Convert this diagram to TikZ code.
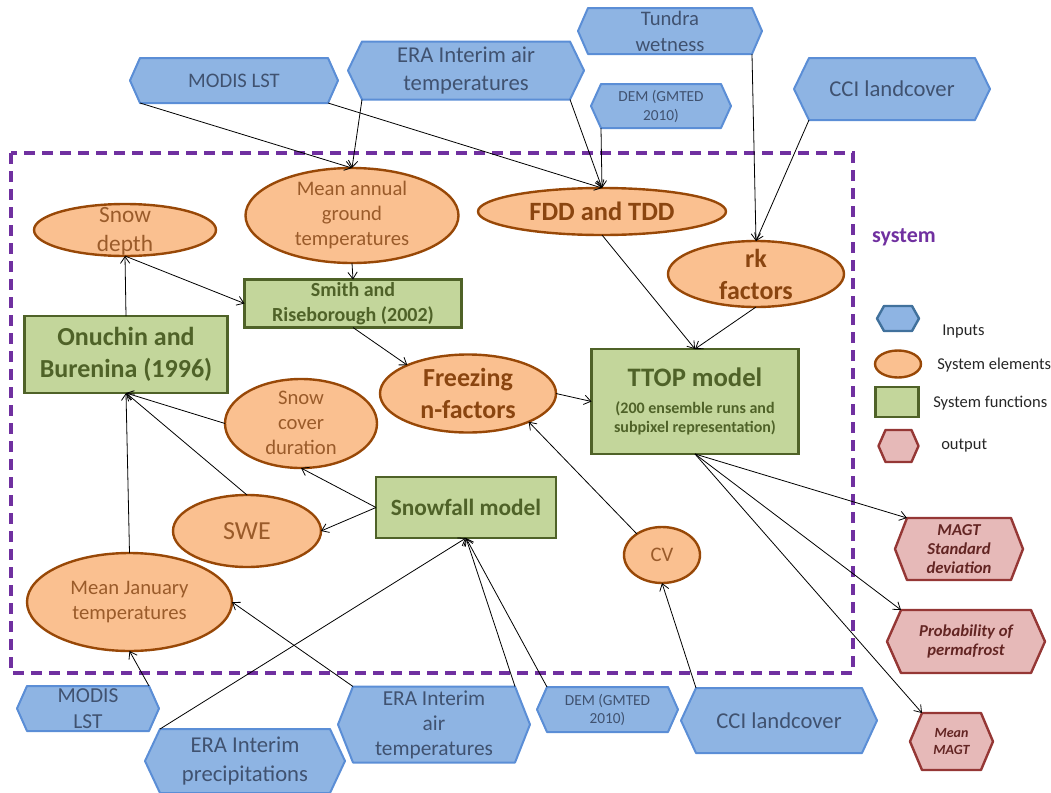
\documentclass[tikz,border=0pt]{standalone}
\usepackage{fontspec}
\setmainfont{Carlito}
\usetikzlibrary{shapes.geometric,arrows.meta}
\definecolor{bfill}{HTML}{8EB4E3}
\definecolor{bbord}{HTML}{5B8ED6}
\definecolor{btxt}{HTML}{405270}
\definecolor{lbord}{HTML}{41719C}
\definecolor{ofill}{HTML}{FAC090}
\definecolor{obord}{HTML}{984807}
\definecolor{otxt}{HTML}{9A5B2A}
\definecolor{obtxt}{HTML}{8A4510}
\definecolor{gfill}{HTML}{C3D69B}
\definecolor{gbord}{HTML}{4F6228}
\definecolor{pfill}{HTML}{E6B9B8}
\definecolor{pbord}{HTML}{953735}
\definecolor{ptxt}{HTML}{632523}
\definecolor{sysc}{HTML}{7030A0}
\newcommand\px[1]{#1*0.75pt}
\newcommand\fnt[2]{\fontsize{#1}{#2}\selectfont}
\newcommand\hexnode[9]{%
  \path[#1] (#3-#5,#4) -- (#3-#5+#7,#4-#6) -- (#3+#5-#7,#4-#6) -- (#3+#5,#4) -- (#3+#5-#7,#4+#6) -- (#3-#5+#7,#4+#6) -- cycle;
  \node[#8, minimum width={2*#5*0.75pt}, minimum height={2*#6*0.75pt}, inner sep=0pt, outer sep=0pt] (#2) at (#3,#4) {#9};}
\tikzset{
  inhex/.style={fill=bfill, draw=bbord, line width=1.5pt, line join=round},
  intext/.style={text=btxt, align=center},
  outhex/.style={fill=pfill, draw=pbord, line width=1.8pt, line join=round},
  outtext/.style={text=ptxt, align=center, font=\bfseries\itshape\fnt{12.5}{14.5}},
  elem/.style={ellipse, draw=obord, fill=ofill, line width=1.8pt, inner sep=0pt, outer sep=0pt},
  etext/.style={text=otxt, align=center, inner sep=0pt},
  ebtext/.style={text=obtxt, align=center, inner sep=0pt},
  func/.style={rectangle, draw=gbord, fill=gfill, line width=1.8pt, inner sep=0pt, outer sep=0pt, align=center, text=gbord},
  conn/.style={-{Straight Barb[length=5pt,width=7pt]}, line width=0.6pt, black},
  legtext/.style={anchor=west, inner sep=0pt, text=black!85, font=\fnt{12.4}{14}},
}
\begin{document}
\begin{tikzpicture}[x=0.75pt, y=-0.75pt]
\useasboundingbox (0,0) rectangle (1051,793);
% system boundary
\draw[sysc, line width=2.4pt, dash pattern=on 8.5pt off 5pt] (11,153) rectangle (853,673);
\node[text=sysc, font=\bfseries\fnt{16.5}{20}] (sys) at (904,237) {system};

% top inputs
\hexnode{inhex}{mt}{234}{80.5}{104}{22.5}{10}{intext, font=\fnt{15.5}{19}}{MODIS LST}
\hexnode{inhex}{et}{466}{70.5}{118}{29}{14}{intext, font=\fnt{17}{21}}{ERA Interim air\\temperatures}
\hexnode{inhex}{tw}{670}{31}{92}{23}{10}{intext, font=\fnt{15.5}{19.5}}{Tundra\\wetness}
\hexnode{inhex}{dt}{661}{106}{70}{22}{10}{intext, font=\fnt{11.5}{14.3}}{DEM (GMTED\\2010)}
\hexnode{inhex}{ct}{892}{89}{98}{31}{15}{intext, font=\fnt{17}{21}}{CCI landcover}

% bottom inputs
\hexnode{inhex}{mb}{88}{708.5}{71}{22.5}{10}{intext, font=\fnt{16}{20}}{MODIS\\LST}
\hexnode{inhex}{ep}{245}{761}{100}{32}{15}{intext, font=\fnt{17}{21.5}}{ERA Interim\\precipitations}
\hexnode{inhex}{eb}{434}{724.5}{96}{38}{15}{intext, font=\fnt{16}{18.8}}{ERA Interim\\air\\temperatures}
\hexnode{inhex}{db}{607.5}{709.5}{70.5}{22.5}{10}{intext, font=\fnt{11.5}{13.5}}{DEM (GMTED\\2010)}
\hexnode{inhex}{cb}{779}{720.5}{98}{32.5}{15}{intext, font=\fnt{17}{21}}{CCI landcover}

% outputs
\hexnode{outhex}{msd}{959}{549}{64}{31}{12}{outtext}{MAGT\\Standard\\deviation}
\hexnode{outhex}{prob}{966}{641.5}{79}{31.5}{14}{outtext}{Probability of\\permafrost}
\hexnode{outhex}{mm}{951.5}{741.5}{41.5}{28.5}{12}{outtext, font=\bfseries\itshape\fnt{10.5}{13}}{Mean\\MAGT}

% system elements
\node[elem, minimum width=\px{182}, minimum height=\px{52}] (sd) at (125,230) {};
\node[etext, font=\fnt{17.5}{21.5}] (sd-t) at (125,231) {Snow\\depth};
\node[elem, minimum width=\px{213}, minimum height=\px{95}] (mag) at (352,215.5) {};
\node[etext, font=\fnt{15.5}{18.8}] (mag-t) at (352,215) {Mean annual\\ground\\temperatures};
\node[elem, minimum width=\px{248}, minimum height=\px{47}] (fdd) at (602,211.5) {};
\node[ebtext, font=\bfseries\fnt{19.8}{24}] (fdd-t) at (602,211.5) {FDD and TDD};
\node[elem, minimum width=\px{176}, minimum height=\px{66}] (rk) at (756,274) {};
\node[ebtext, font=\bfseries\fnt{19.5}{24}] (rk-t) at (756,274) {rk\\factors};
\node[elem, minimum width=\px{176}, minimum height=\px{78}] (fr) at (468,393.5) {};
\node[ebtext, font=\bfseries\fnt{19.5}{24.5}] (fr-t) at (468,393.5) {Freezing\\n-factors};
\node[elem, minimum width=\px{152}, minimum height=\px{89}] (scd) at (301,423.5) {};
\node[etext, font=\fnt{15.5}{18.8}] (scd-t) at (301,423) {Snow\\cover\\duration};
\node[elem, minimum width=\px{148}, minimum height=\px{72}] (swe) at (247,531) {};
\node[etext, font=\fnt{19.5}{23}] (swe-t) at (247,531) {SWE};
\node[elem, minimum width=\px{205}, minimum height=\px{98}] (mjt) at (129.5,602) {};
\node[etext, font=\fnt{15.5}{18.8}] (mjt-t) at (129.5,602) {Mean January\\temperatures};
\node[elem, minimum width=\px{76}, minimum height=\px{56}] (cv) at (662,555) {};
\node[etext, font=\fnt{15.5}{18.8}] (cv-t) at (662,555) {CV};

% system functions
\node[func, minimum width=\px{217}, minimum height=\px{48}, font=\bfseries\fnt{15}{18.5}] (smith) at (353,303.5) {Smith and\\Riseborough (2002)};
\node[func, minimum width=\px{203}, minimum height=\px{77}, font=\bfseries\fnt{19.5}{23.5}] (onu) at (126,354.5) {Onuchin and\\Burenina (1996)};
\node[func, minimum width=\px{207}, minimum height=\px{105}, font=\bfseries\fnt{12}{14.3}] (ttop) at (695,401.5) {\fnt{20}{24}TTOP model\\[6pt](200 ensemble runs and\\subpixel representation)};
\node[func, minimum width=\px{180}, minimum height=\px{61}, font=\bfseries\fnt{17.5}{21}] (sfm) at (466,507.5) {Snowfall model};

% legend
\hexnode{fill=bfill, draw=lbord, line width=1.8pt, line join=round}{lh1}{898}{318.5}{21}{12.5}{7}{}{}
\node[legtext] (lt1) at (942,332) {Inputs};
\node[elem, minimum width=\px{46}, minimum height=\px{27}] (le) at (898,364) {};
\node[legtext] (lt2) at (937,365) {System elements};
\node[func, minimum width=\px{43}, minimum height=\px{30}] (lr) at (897,402) {};
\node[legtext] (lt3) at (933,403) {System functions};
\hexnode{outhex}{lh2}{898.5}{446}{20}{16}{7}{}{}
\node[legtext] (lt4) at (941,446) {output};

% connectors
\draw[conn] ([xshift=\px{10}]mt.south west) -- (mag.north);
\draw[conn] ([xshift=\px{14}]et.south west) -- (mag.north);
\draw[conn] ([xshift=-\px{10}]mt.south east) -- (fdd.north);
\draw[conn] ([xshift=-\px{14}]et.south east) -- (fdd.north);
\draw[conn] ([xshift=\px{10}]dt.south west) -- (fdd.north);
\draw[conn] ([xshift=-\px{10}]tw.south east) -- (rk.north);
\draw[conn] ([xshift=\px{15}]ct.south west) -- (rk.north);
\draw[conn] (mag.south) -- (smith.north);
\draw[conn] (onu.north) -- (sd.south);
\draw[conn] (sd.south) -- (smith.west);
\draw[conn] (smith.south) -- (fr.155);
\draw[conn] (fr.east) -- (ttop.west);
\draw[conn] (fdd.south) -- (ttop.north);
\draw[conn] (rk.south) -- (ttop.north);
\draw[conn] (cv.140) -- (fr.-25);
\draw[conn] (scd.west) -- (onu.south);
\draw[conn] (swe.north) -- (onu.south);
\draw[conn] (mjt.north) -- (onu.south);
\draw[conn] (sfm.west) -- (scd.south);
\draw[conn] (sfm.west) -- (swe.east);
\draw[conn] (ttop.south) -- ([xshift=\px{12}]msd.north west);
\draw[conn] (ttop.south) -- ([xshift=\px{14}]prob.north west);
\draw[conn] (ttop.south) -- ([xshift=\px{12}]mm.north west);
\draw[conn] ([xshift=-\px{10}]mb.north east) -- (mjt.south);
\draw[conn] ([xshift=\px{15}]ep.north west) -- (sfm.south);
\draw[conn] ([xshift=\px{15}]eb.north west) -- (mjt.east);
\draw[conn] ([xshift=-\px{15}]eb.north east) -- (sfm.south);
\draw[conn] ([xshift=\px{10}]db.north west) -- (sfm.south);
\draw[conn] ([xshift=\px{15}]cb.north west) -- (cv.south);
\end{tikzpicture}
\end{document}
